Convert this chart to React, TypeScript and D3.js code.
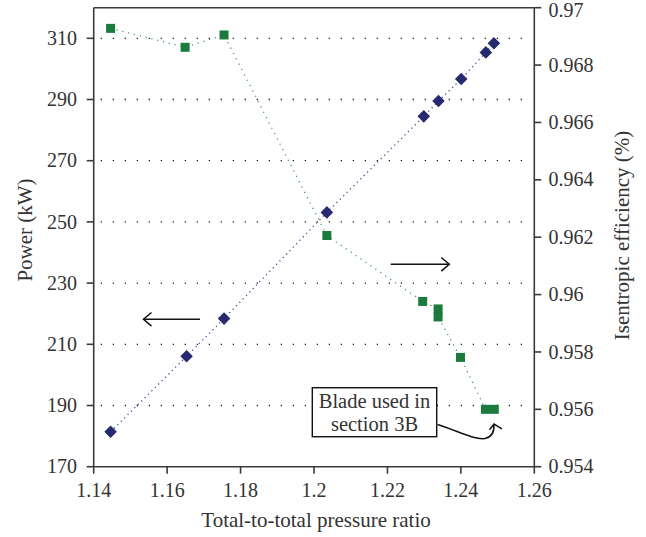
import React from "react";
import * as d3 from "d3";

const powerRatio = [1.1446, 1.1653, 1.1755, 1.2035, 1.2299, 1.2339, 1.2401, 1.2468, 1.249];
const powerKW = [181.4, 206.1, 218.4, 253.1, 284.5, 289.5, 296.7, 305.4, 308.4];
const effRatio = [1.1446, 1.1649, 1.1755, 1.2035, 1.2296, 1.2338, 1.2338, 1.2399, 1.2467, 1.2491];
const efficiency = [0.96928, 0.96862, 0.96905, 0.96206, 0.95976, 0.9595, 0.95922, 0.95781, 0.956, 0.956];
const xTicks = [1.14, 1.16, 1.18, 1.2, 1.22, 1.24, 1.26];
const leftTicks = [170, 190, 210, 230, 250, 270, 290, 310];
const rightTicks = [0.954, 0.956, 0.958, 0.96, 0.962, 0.964, 0.966, 0.968, 0.97];
const gridTicks = [190, 210, 230, 250, 270, 290, 310];

const W = 646, H = 537;
const L = 93.7, R = 534.3, T = 7.7, B = 466.7;
const FONT = '"Liberation Serif", "Times New Roman", serif';
const TXT = "#333";
const AX = "#3a3a3a";
const GREEN = "#1b7b3d";
const GREEN_LINE = "#3f9e5d";
const NAVY = "#262a6e";
const NAVY_LINE = "#45489e";

const ts: React.CSSProperties = { fontFamily: FONT, fontSize: "20px" };
const tt: React.CSSProperties = { fontFamily: FONT, fontSize: "21px" };
const tb: React.CSSProperties = { fontFamily: FONT, fontSize: "20.5px" };

export default function App() {
  const x = d3.scaleLinear().domain([1.14, 1.26]).range([L, R]);
  const yL = d3.scaleLinear().domain([170, 320]).range([B, T]);
  const yR = d3.scaleLinear().domain([0.954, 0.97]).range([B, T]);

  const powerPts: [number, number][] = powerRatio.map((r, i) => [x(r), yL(powerKW[i])]);
  const effPts: [number, number][] = effRatio.map((r, i) => [x(r), yR(efficiency[i])]);
  const line = d3.line();

  const fmtR = (v: number) => String(+v.toFixed(3));
  const fmtX = (v: number) => String(+v.toFixed(2));

  const sq = 9;
  const dia = 6.3;

  return (
    <svg width={W} height={H} style={{ position: "absolute", left: 0, top: 0, background: "#fff" }}>
      <rect x={0} y={0} width={W} height={H} fill="#fff" />
      {gridTicks.map((t) => (
        <line key={"g" + t} x1={L + 7} x2={R - 8} y1={yL(t)} y2={yL(t)} stroke="#222"
          strokeWidth={1.3} strokeDasharray="1.3 10.7" />
      ))}
      <path d={line(powerPts) || ""} fill="none" stroke={NAVY_LINE} strokeWidth={1.3} strokeDasharray="1.2 3.6" />
      <path d={line(effPts) || ""} fill="none" stroke={GREEN_LINE} strokeWidth={1.3} strokeDasharray="1.2 4.8" />
      {effPts.map(([px, py], i) => (
        <rect key={"s" + i} x={px - sq / 2} y={py - sq / 2} width={sq} height={sq} fill={GREEN} />
      ))}
      {powerPts.map(([px, py], i) => (
        <path key={"d" + i} d={`M${px},${py - dia}L${px + dia},${py}L${px},${py + dia}L${px - dia},${py}Z`} fill={NAVY} />
      ))}
      <line x1={L} x2={R} y1={T} y2={T} stroke={AX} strokeWidth={1.6} />
      <line x1={L} x2={R} y1={B} y2={B} stroke={AX} strokeWidth={1.6} />
      <line x1={L} x2={L} y1={T} y2={B} stroke={AX} strokeWidth={1.6} />
      <line x1={R} x2={R} y1={T} y2={B} stroke={AX} strokeWidth={1.6} />
      {xTicks.map((t) => (
        <g key={"x" + t}>
          <line x1={x(t)} x2={x(t)} y1={B} y2={B + 7} stroke={AX} strokeWidth={1.6} />
          <text x={x(t)} y={496.7} textAnchor="middle" style={ts} fill={TXT}>{fmtX(t)}</text>
        </g>
      ))}
      {leftTicks.map((t) => (
        <g key={"l" + t}>
          <line x1={L - 7} x2={L} y1={yL(t)} y2={yL(t)} stroke={AX} strokeWidth={1.6} />
          <text x={77} y={yL(t)} dy="0.33em" textAnchor="end" style={ts} fill={TXT}>{t}</text>
        </g>
      ))}
      {rightTicks.map((t) => (
        <g key={"r" + t}>
          <line x1={R} x2={R + 7} y1={yR(t)} y2={yR(t)} stroke={AX} strokeWidth={1.6} />
          <text x={548.5} y={Math.max(yR(t), 10.5)} dy="0.33em" textAnchor="start" style={ts} fill={TXT}>{fmtR(t)}</text>
        </g>
      ))}
      <text x={316} y={526.7} textAnchor="middle" style={tt} fill={TXT}>Total-to-total pressure ratio</text>
      <text transform="translate(32,230) rotate(-90)" textAnchor="middle" style={tt} fill={TXT}>Power (kW)</text>
      <text transform="translate(628.5,235.5) rotate(-90)" textAnchor="middle" style={tt} fill={TXT}>Isentropic efficiency (%)</text>
      <g fill="none" stroke="#111" strokeWidth={1.5}>
        <line x1={200} x2={143.5} y1={319.3} y2={319.3} />
        <path d="M151.5,312.5 L143.5,319.3 L151.5,326.1" />
        <line x1={390.7} x2={449.3} y1={264.3} y2={264.3} />
        <path d="M441.3,257.5 L449.3,264.3 L441.3,271.1" />
      </g>
      <rect x={312.3} y={387.7} width={124.4} height={49} fill="#fff" stroke="#111" strokeWidth={1.4} />
      <text x={374.5} y={408.3} textAnchor="middle" style={tb} fill={TXT}>Blade used in</text>
      <text x={374.5} y={430.7} textAnchor="middle" style={tb} fill={TXT}>section 3B</text>
      <g fill="none" stroke="#111" strokeWidth={1.5}>
        <path d="M437.5,424.5 C458,431 474,440 485,438.5 C492,437 494.5,431 493.8,424" />
        <path d="M489.5,429.8 L494,424 L502,428.8" />
      </g>
    </svg>
  );
}
